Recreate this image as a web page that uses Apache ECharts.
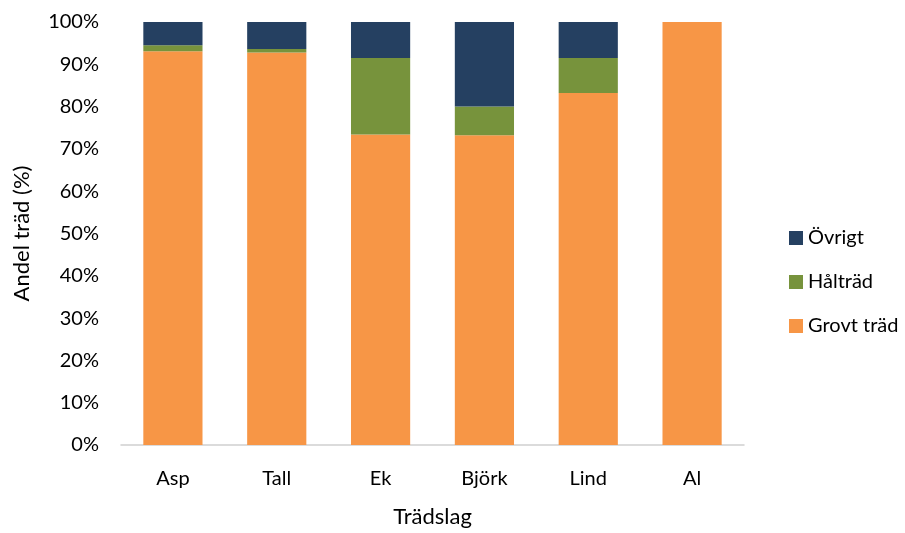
<!DOCTYPE html>
<html>
<head>
<meta charset="utf-8">
<script src="https://cdn.jsdelivr.net/npm/echarts@6/dist/echarts.min.js"></script>
<style>
  html, body { margin: 0; padding: 0; background: #fff; }
  #chart { width: 905px; height: 533px; }
</style>
</head>
<body>
<div id="chart"></div>
<script>
// trädslag
const categories = ['Asp', 'Tall', 'Ek', 'Björk', 'Lind', 'Al']
// andel i procent
const grovt = [93.1, 92.8, 73.4, 73.2, 83.2, 100]
const haltrad = [1.4, 0.8, 18.1, 6.8, 8.3, 0]
const ovrigt = [5.5, 6.4, 8.5, 20.0, 8.5, 0]
const yTicks = [0, 10, 20, 30, 40, 50, 60, 70, 80, 90, 100]

const font = 'Lato, "Noto Sans", sans-serif'

let chart = echarts.init(document.getElementById('chart'))
let options = {
  animation: false,
  grid: { left: 121, right: 161, top: 22, bottom: 82 },
  legend: {
    orient: 'vertical',
    left: 784,
    top: 223,
    icon: 'rect',
    itemWidth: 14,
    itemHeight: 14,
    itemGap: 24,
    data: ['Övrigt', 'Hålträd', 'Grovt träd'],
    textStyle: { fontFamily: font, fontSize: 20, color: '#000' }
  },
  xAxis: {
    type: 'category',
    data: categories,
    name: 'Trädslag',
    nameLocation: 'middle',
    nameGap: 61,
    nameTextStyle: { fontFamily: font, fontSize: 22, color: '#000' },
    axisLine: { lineStyle: { color: '#d0d0d0', width: 1.5 } },
    axisTick: { show: false },
    axisLabel: { fontFamily: font, fontSize: 20, color: '#000', margin: 24 }
  },
  yAxis: {
    type: 'value',
    min: 0,
    max: 100,
    interval: 10,
    name: 'Andel träd (%)',
    nameLocation: 'middle',
    nameGap: 88,
    nameTextStyle: { fontFamily: font, fontSize: 22, color: '#000' },
    axisLine: { show: false },
    axisTick: { show: false },
    splitLine: { show: false },
    axisLabel: {
      fontFamily: font, fontSize: 20, color: '#000', margin: 22,
      formatter: v => yTicks.includes(v) ? v + '%' : ''
    }
  },
  series: [
    {
      name: 'Grovt träd', type: 'bar', stack: 'a', data: grovt, barWidth: '57%',
      itemStyle: { color: '#F79646' }
    },
    {
      name: 'Hålträd', type: 'bar', stack: 'a', data: haltrad, barWidth: '57%',
      itemStyle: { color: '#77933C' }
    },
    {
      name: 'Övrigt', type: 'bar', stack: 'a', data: ovrigt, barWidth: '57%',
      itemStyle: { color: '#254061' }
    }
  ]
}
chart.setOption(options)
</script>
</body>
</html>
